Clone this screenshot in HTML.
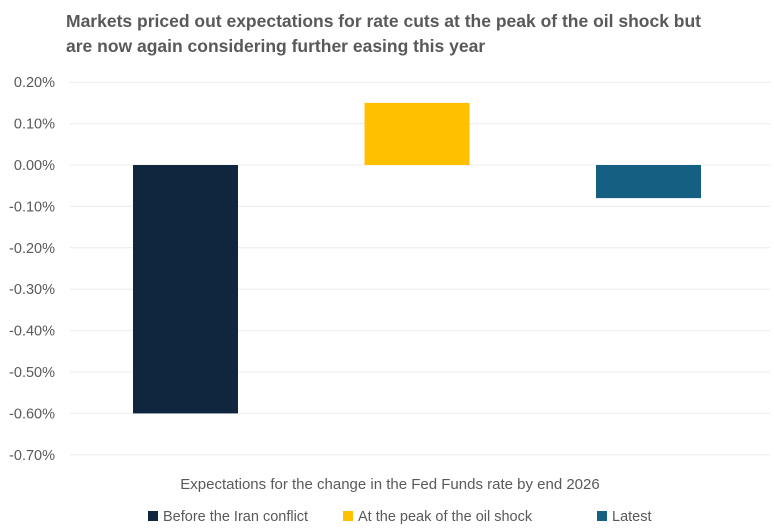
<!DOCTYPE html>
<html><head><meta charset="utf-8"><style>
body{margin:0;background:#fff;width:774px;height:526px;overflow:hidden;font-family:"Liberation Sans",sans-serif}
</style></head><body>
<svg id="c" width="774" height="526">
<text x="66" y="27" font-size="17.5" font-weight="bold" fill="#595959">Markets priced out expectations for rate cuts at the peak of the oil shock but</text>
<text x="66" y="52" font-size="17.5" font-weight="bold" fill="#595959">are now again considering further easing this year</text>
<g id="grid"></g><g id="bars"></g>
<text x="390" y="489" font-size="15" fill="#595959" text-anchor="middle">Expectations for the change in the Fed Funds rate by end 2026</text>
<g id="legend"></g>
</svg>
<script>
const categories=["Before the Iran conflict","At the peak of the oil shock","Latest"];
const values=[-0.60,0.15,-0.08];
const colors=["#10263F","#FFC000","#156082"];
const ticks=[0.2,0.1,0,-0.1,-0.2,-0.3,-0.4,-0.5,-0.6,-0.7];
const NS="http://www.w3.org/2000/svg";
const y=v=>165-v*414;
const bx=i=>133+i*231.5;
function mk(t,a,p){const e=document.createElementNS(NS,t);for(const k in a)e.setAttribute(k,a[k]);p.appendChild(e);return e;}
const g=document.getElementById('grid');
ticks.forEach(t=>{
 const l=mk('line',{x1:70,x2:770,y1:y(t),y2:y(t),stroke:'#ececec','stroke-width':1},g);
 
 
 const tx=mk('text',{x:55,y:y(t)+5,'font-size':14.5,fill:'#595959','text-anchor':'end'},g);
 tx.textContent=t.toFixed(2)+'%';
 
 
});
const b=document.getElementById('bars');
values.forEach((v,i)=>{
 const r=mk('rect',{x:bx(i),y:Math.min(y(v),y(0)),width:105,height:Math.abs(y(v)-y(0)),fill:colors[i]},b);
 
 
});
const lg=document.getElementById('legend');
const lx=[148,343,597];
categories.forEach((c,i)=>{
 const s=mk('rect',{x:lx[i],y:511,width:10,height:10,fill:colors[i]},lg);
 
 
 const t=mk('text',{x:lx[i]+15,y:521,'font-size':14.5,fill:'#595959'},lg);
 t.textContent=c;
 
 
});
</script>
</body></html>
